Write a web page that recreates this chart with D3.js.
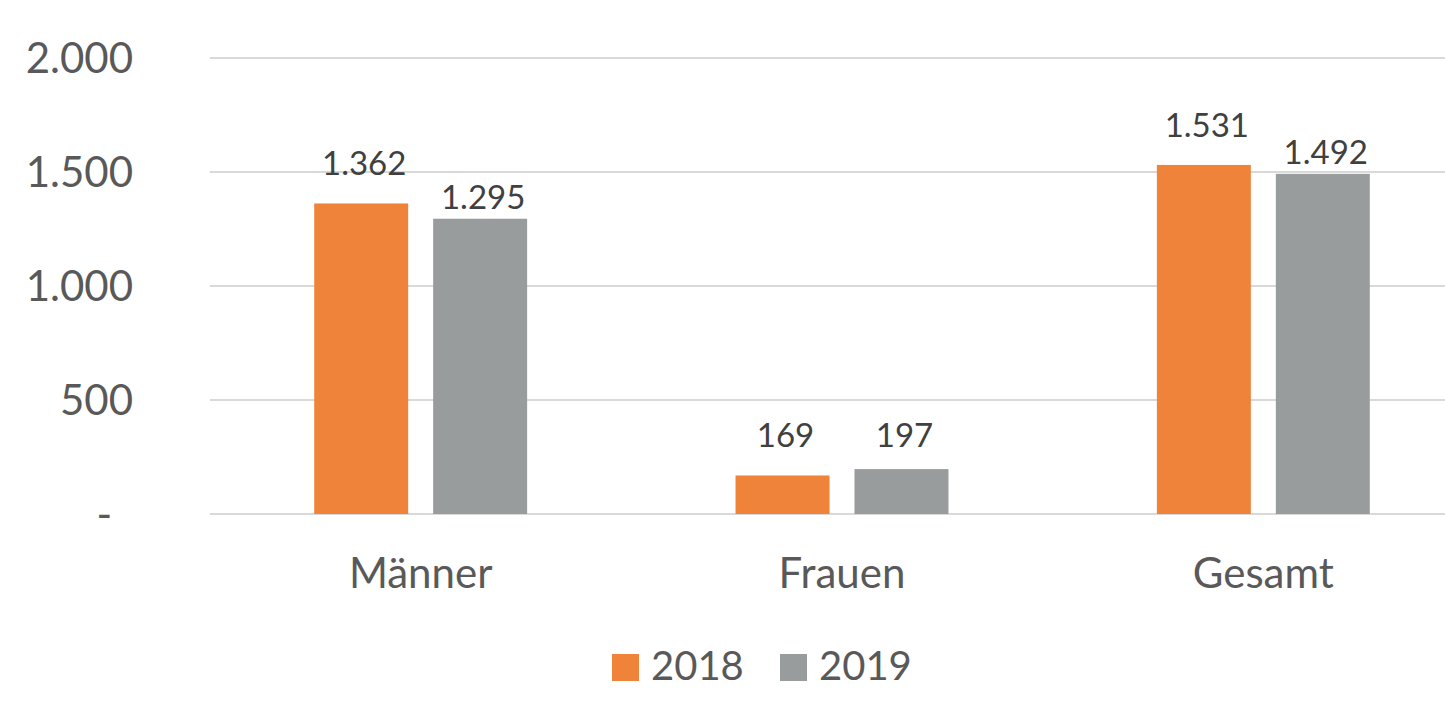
<!DOCTYPE html>
<html>
<head>
<meta charset="utf-8">
<script src="https://d3js.org/d3.v7.min.js"></script>
<style>
  body { margin: 0; background: #fff; }
  text { font-family: Lato, "Open Sans", sans-serif; }
</style>
</head>
<body>
<div id="chart"></div>
<script>
// data
var categories = ["Männer", "Frauen", "Gesamt"];
var seriesNames = ["2018", "2019"];
var values2018 = [1362, 169, 1531];
var values2019 = [1295, 197, 1492];
var yTicks = [0, 500, 1000, 1500, 2000];

var colors = ["#F0833A", "#999C9C"];
var labelGap = [28, 10];   // distance between bar top and label baseline, per series

var width = 1445, height = 701;
var margin = {top: 58, left: 210, bottom: 187};
var plotRight = 1474; // plot area runs past the right edge of the picture

var svg = d3.select("#chart").append("svg")
  .attr("width", width)
  .attr("height", height);

var y = d3.scaleLinear()
  .domain([0, 2000])
  .range([height - margin.bottom, margin.top]);

var x = d3.scaleBand()
  .domain(categories)
  .range([margin.left, plotRight])
  .padding(0);

var xInner = d3.scaleBand()
  .domain(seriesNames)
  .range([0, x.bandwidth()])
  .paddingInner(0.21)
  .paddingOuter(0.876);

// gridlines
svg.append("g")
  .selectAll("line")
  .data(yTicks)
  .join("line")
    .attr("x1", margin.left)
    .attr("x2", plotRight)
    .attr("y1", function(d) { return y(d); })
    .attr("y2", function(d) { return y(d); })
    .attr("stroke", "#D9D9D9")
    .attr("stroke-width", 2);

// y axis labels
var fmt = function(d) { return d === 0 ? "-" : d3.format(",")(d).replace(/,/g, "."); };
svg.append("g")
  .selectAll("text")
  .data(yTicks)
  .join("text")
    .attr("x", function(d) { return d === 0 ? 112 : 133; })
    .attr("y", function(d) { return y(d); })
    .attr("dy", "0.36em")
    .attr("text-anchor", "end")
    .attr("font-size", 42)
    .attr("fill", "#595959")
    .text(fmt);

// bars
var rows = categories.map(function(c, i) {
  return {cat: c, vals: [values2018[i], values2019[i]]};
});

var groups = svg.append("g")
  .selectAll("g")
  .data(rows)
  .join("g")
    .attr("transform", function(d) { return "translate(" + x(d.cat) + ",0)"; });

groups.selectAll("rect")
  .data(function(d) { return d.vals.map(function(v, j) { return {s: seriesNames[j], j: j, v: v, cat: d.cat}; }); })
  .join("rect")
    .attr("x", function(d) { return xInner(d.s); })
    .attr("y", function(d) { return y(d.v); })
    .attr("width", xInner.bandwidth())
    .attr("height", function(d) { return y(0) - y(d.v); })
    .attr("fill", function(d) { return colors[d.j]; });

groups.selectAll("text.lbl")
  .data(function(d) { return d.vals.map(function(v, j) { return {s: seriesNames[j], j: j, v: v, cat: d.cat}; }); })
  .join("text")
    .attr("class", "lbl")
    .attr("x", function(d) { return xInner(d.s) + xInner.bandwidth() / 2 + 3; })
    .attr("y", function(d) {
      var gap = labelGap[d.j];
      if (d.cat === "Frauen" && d.j === 1) gap = 22;
      return y(d.v) - gap;
    })
    .attr("text-anchor", "middle")
    .attr("font-size", 33)
    .attr("fill", "#404040")
    .text(function(d) { return fmt(d.v); });

// category labels
svg.append("g")
  .selectAll("text")
  .data(categories)
  .join("text")
    .attr("x", function(d) { return x(d) + x.bandwidth() / 2; })
    .attr("y", 588)
    .attr("text-anchor", "middle")
    .attr("font-size", 42)
    .attr("fill", "#595959")
    .text(function(d) { return d; });

// legend
var legendX = [612, 780];
var legend = svg.append("g")
  .selectAll("g")
  .data(seriesNames)
  .join("g")
    .attr("transform", function(d, i) { return "translate(" + legendX[i] + ",654)"; });
legend.append("rect")
  .attr("width", 27)
  .attr("height", 27)
  .attr("fill", function(d, i) { return colors[i]; });
legend.append("text")
  .attr("x", 39)
  .attr("y", 26)
  .attr("font-size", 40)
  .attr("fill", "#595959")
  .text(function(d) { return d; });
</script>
</body>
</html>
